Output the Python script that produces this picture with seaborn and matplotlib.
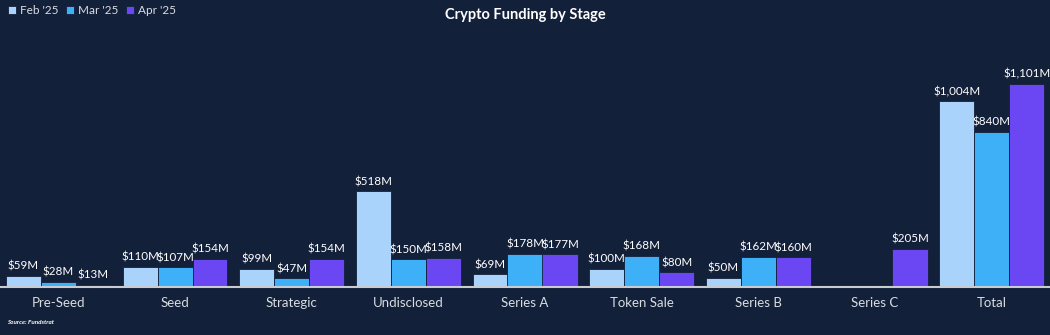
import matplotlib
matplotlib.use("Agg")
import matplotlib.pyplot as plt
import seaborn as sns
import pandas as pd
import numpy as np

stages = ["Pre-Seed", "Seed", "Strategic", "Undisclosed", "Series A", "Token Sale", "Series B", "Series C", "Total"]
months = ["Feb '25", "Mar '25", "Apr '25"]
feb = [59, 110, 99, 518, 69, 100, 50, 0, 1004]
mar = [28, 107, 47, 150, 178, 168, 162, 0, 840]
apr = [13, 154, 154, 158, 177, 80, 160, 205, 1101]
colors = ["#a9d3fa", "#3db0f7", "#6a47f2"]

rows = []
for m, vals in zip(months, [feb, mar, apr]):
    for s, v in zip(stages, vals):
        rows.append({"Stage": s, "Month": m, "Value": v})
df = pd.DataFrame(rows)

bg = "#13203a"
sns.set_theme(style="white")
plt.rcParams["font.family"] = ["Lato", "DejaVu Sans"]

fig = plt.figure(figsize=(10.5, 3.35), dpi=100, facecolor=bg)
ax = fig.add_axes([0.0, 0.1433, 1.0, 0.78])
ax.set_facecolor(bg)

sns.barplot(data=df, x="Stage", y="Value", hue="Month", order=stages, hue_order=months,
            palette=colors, width=0.9, saturation=1, ax=ax, legend=True,
            edgecolor=bg, linewidth=0.6)

for cont, vals in zip(ax.containers, [feb, mar, apr]):
    labels = ["" if v == 0 else f"${int(v):,}M" for v in vals]
    ax.bar_label(cont, labels=labels, padding=3, color="white", fontsize=8.4)

ax.set_xlim(-0.5, len(stages) - 0.5)
ax.set_ylim(0, 1414)
ax.set_xlabel("")
ax.set_ylabel("")
ax.set_yticks([])
for sp in ["top", "right", "left"]:
    ax.spines[sp].set_visible(False)
ax.spines["bottom"].set_color("#c8cbd0")
ax.spines["bottom"].set_linewidth(1.5)
ax.tick_params(axis="x", colors="#d9dce1", labelsize=9.5, length=0, pad=7)

leg = ax.legend(loc="upper left", bbox_to_anchor=(0.004, 0.995), bbox_transform=fig.transFigure,
                ncol=3, frameon=False, fontsize=8.5, handlelength=0.7, handleheight=0.7,
                handletextpad=0.35, columnspacing=0.6, borderaxespad=0.1, borderpad=0.2)
for t in leg.get_texts():
    t.set_color("#d9dce1")

fig.text(0.5, 0.955, "Crypto Funding by Stage", ha="center", va="center",
         color="white", fontsize=10.5, fontweight="bold")
fig.text(0.007, 0.038, "Source: Fundstrat", ha="left", va="center",
         color="white", fontsize=4.5, fontweight="bold", style="italic")

fig.savefig("out.png", dpi=100, facecolor=bg)
